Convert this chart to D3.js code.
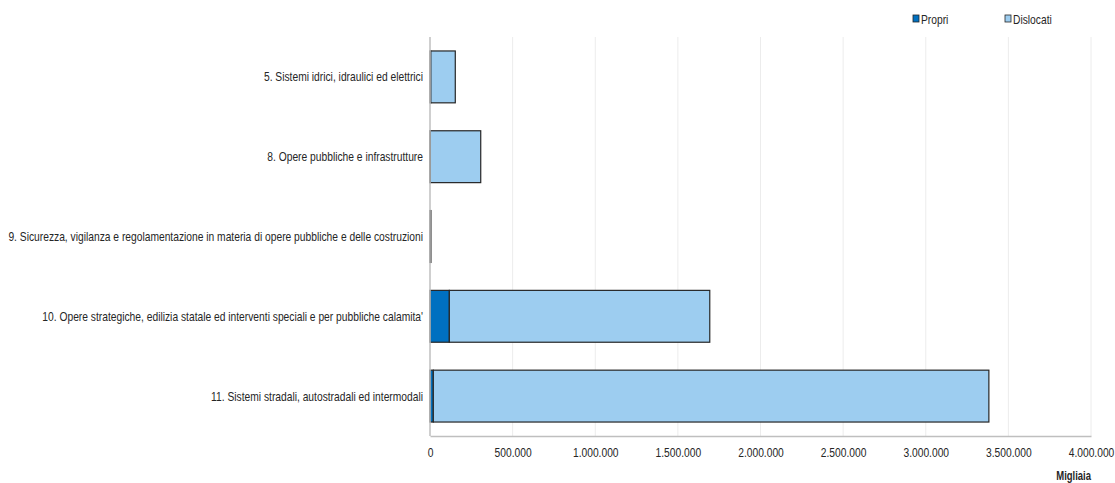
<!DOCTYPE html>
<html>
<head>
<meta charset="utf-8">
<script src="https://cdn.jsdelivr.net/npm/d3@7"></script>
<style>
  body { margin: 0; background: #fff; }
  text { font-family: "Liberation Sans", Arial, sans-serif; fill: #262626; }
</style>
</head>
<body>
<script>
// categories, top to bottom
var categories = [
    "5. Sistemi idrici, idraulici ed elettrici",
    "8. Opere pubbliche e infrastrutture",
    "9. Sicurezza, vigilanza e regolamentazione in materia di opere pubbliche e delle costruzioni",
    "10. Opere strategiche, edilizia statale ed interventi speciali e per pubbliche calamita'",
    "11. Sistemi stradali, autostradali ed intermodali"
];
var propri    = [5000, 2000, 4000, 117000, 20000];
var dislocati = [148000, 305000, 500, 1576000, 3362000];
var seriesNames = ["Propri", "Dislocati"];
var seriesColors = ["#0070c0", "#9dcdf0"];
var xTicks = [0, 500000, 1000000, 1500000, 2000000, 2500000, 3000000, 3500000, 4000000];

var width = 1115, height = 483;
var margin = {top: 37, right: 24, bottom: 47, left: 430};
var fontSize = 13;

var svg = d3.select("body").append("svg")
    .attr("width", width)
    .attr("height", height);

var x = d3.scaleLinear()
    .domain([0, 4000000])
    .range([margin.left, width - margin.right]);

var y = d3.scaleBand()
    .domain(categories)
    .range([margin.top, height - margin.bottom])
    .paddingInner(0.35)
    .paddingOuter(0.175);

var fmt = function(v) {
    return d3.format(",")(v).replace(/,/g, ".");
};

// narrow font: squeeze text horizontally so the longest label fits like the original
var probe = svg.append("text").style("font-size", fontSize + "px").text(categories[2]);
var squeeze = 415 / probe.node().getComputedTextLength();
probe.remove();

// gridlines
svg.append("g")
    .selectAll("line")
    .data(xTicks.slice(1))
    .enter()
    .append("line")
    .attr("x1", function(d) { return x(d); })
    .attr("x2", function(d) { return x(d); })
    .attr("y1", margin.top)
    .attr("y2", height - margin.bottom)
    .style("stroke", "#ececec")
    .style("stroke-width", 1);

// stacked data
var rows = categories.map(function(c, i) {
    return {name: c, Propri: propri[i], Dislocati: dislocati[i]};
});
var stack = d3.stack().keys(seriesNames)(rows);

svg.append("g")
    .selectAll("g")
    .data(stack)
    .enter()
    .append("g")
    .style("fill", function(d, i) { return seriesColors[i]; })
    .selectAll("rect")
    .data(function(d) { return d; })
    .enter()
    .append("rect")
    .attr("x", function(d) { return x(d[0]); })
    .attr("y", function(d) { return y(d.data.name); })
    .attr("width", function(d) { return Math.max(0, x(d[1]) - x(d[0])); })
    .attr("height", y.bandwidth())
    .style("stroke", "#262626")
    .style("stroke-width", 1.2);

// x axis
var xAxis = svg.append("g")
    .attr("transform", "translate(0," + (height - margin.bottom) + ")")
    .call(d3.axisBottom(x).tickValues(xTicks).tickSize(0).tickPadding(12).tickFormat(fmt));
xAxis.attr("font-family", null).attr("font-size", null);
xAxis.select(".domain").style("stroke", "#bfbfbf").style("stroke-width", 1.5);
xAxis.selectAll("text")
    .style("font-size", fontSize + "px")
    .style("fill", "#262626")
    .attr("transform", "scale(" + squeeze + ",1)");

// y axis line
svg.append("line")
    .attr("x1", margin.left).attr("x2", margin.left)
    .attr("y1", margin.top).attr("y2", height - margin.bottom)
    .style("stroke", "#bfbfbf")
    .style("stroke-width", 1.5);

// category labels
svg.append("g")
    .selectAll("text")
    .data(categories)
    .enter()
    .append("text")
    .attr("transform", function(d) {
        return "translate(" + (margin.left - 7) + "," + (y(d) + y.bandwidth() / 2) + ") scale(" + squeeze + ",1)";
    })
    .attr("dy", "0.35em")
    .attr("text-anchor", "end")
    .style("font-size", fontSize + "px")
    .text(function(d) { return d; });

// unit label
svg.append("text")
    .attr("transform", "translate(" + (width - margin.right) + ",480) scale(" + squeeze + ",1)")
    .attr("text-anchor", "end")
    .style("font-size", "12px")
    .style("font-weight", "bold")
    .text("Migliaia");

// legend
var legendX = [913, 1005];
var legend = svg.append("g")
    .selectAll("g")
    .data(seriesNames)
    .enter()
    .append("g")
    .attr("transform", function(d, i) { return "translate(" + legendX[i] + ",15)"; });
legend.append("rect")
    .attr("width", 6).attr("height", 7)
    .style("fill", function(d, i) { return seriesColors[i]; })
    .style("stroke", "#262626")
    .style("stroke-width", 0.8);
legend.append("text")
    .attr("transform", "translate(8,4) scale(" + squeeze + ",1)")
    .attr("dy", "0.35em")
    .style("font-size", fontSize + "px")
    .text(function(d) { return d; });
</script>
</body>
</html>
